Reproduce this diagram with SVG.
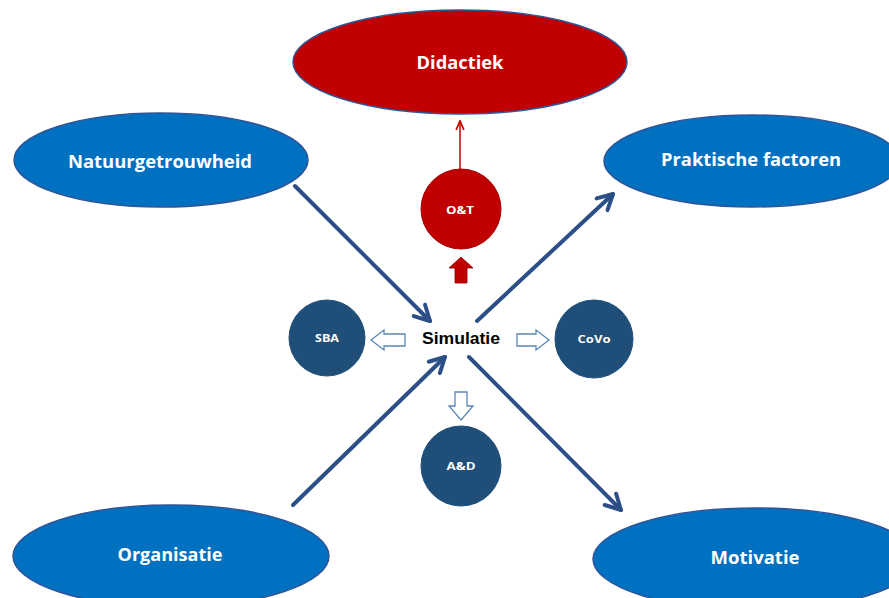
<svg xmlns="http://www.w3.org/2000/svg" width="889" height="598" viewBox="0 0 889 598">
<style>
.blue{fill:#0070C0;stroke:#2F5597;stroke-width:1.5}
.red{fill:#C00000;stroke:#2F5597;stroke-width:1.5}
.dark{fill:#1F4E79;stroke:#1F4E79;stroke-width:1}
.lbl{font-family:"Open Sans","Liberation Sans",sans-serif;font-weight:bold;fill:#fff;text-anchor:middle}
.big{font-size:17px}
.small{font-size:11px}
.conn{stroke:#2B4F86;stroke-width:4;fill:none;stroke-linecap:round}
.hollow{fill:#fff;stroke:#5B86B8;stroke-width:1.3}
</style>
<defs>
<marker id="chev" viewBox="0 0 10 10" refX="8.5" refY="5" markerWidth="5" markerHeight="5" orient="auto" markerUnits="strokeWidth">
<polyline points="1,1 8.5,5 1,9" fill="none" stroke="#2B4F86" stroke-width="2" stroke-linecap="round" stroke-linejoin="round"/>
</marker>
<marker id="redhead" viewBox="0 0 10 10" refX="9" refY="5" markerWidth="11" markerHeight="11" orient="auto" markerUnits="userSpaceOnUse">
<polyline points="1,1.5 9,5 1,8.5" fill="none" stroke="#C00000" stroke-width="1.6"/>
</marker>
</defs>
<g id="connectors">
<line class="conn" x1="295" y1="186" x2="430" y2="321" marker-end="url(#chev)"/>
<line class="conn" x1="477" y1="321" x2="613" y2="194" marker-end="url(#chev)"/>
<line class="conn" x1="293" y1="505" x2="445" y2="357" marker-end="url(#chev)"/>
<line class="conn" x1="469" y1="357" x2="621" y2="510" marker-end="url(#chev)"/>
<line x1="460" y1="184" x2="460" y2="121" stroke="#C00000" stroke-width="1.5" marker-end="url(#redhead)"/>
<polygon points="461,257 473,268 467,268 467,283 455,283 455,268 449,268" fill="#C00000" stroke="#8B0000" stroke-width="0.8"/>
<polygon class="hollow" points="371,340 384,330 384,334 405,334 405,346 384,346 384,350"/>
<polygon class="hollow" points="549,340 536,330 536,334 517,334 517,346 536,346 536,350"/>
<polygon class="hollow" points="461,420 473,406 467,406 467,392 455,392 455,406 449,406"/>
</g>
<g id="didactiek">
<ellipse class="red" cx="460" cy="62" rx="167" ry="52"/>
<text class="lbl big" x="460" y="69" textLength="87" lengthAdjust="spacingAndGlyphs">Didactiek</text>
</g>
<g id="natuurgetrouwheid">
<ellipse class="blue" cx="161" cy="160" rx="147" ry="47"/>
<text class="lbl big" x="160" y="168" textLength="184" lengthAdjust="spacingAndGlyphs">Natuurgetrouwheid</text>
</g>
<g id="praktische">
<ellipse class="blue" cx="752" cy="161" rx="148" ry="46"/>
<text class="lbl big" x="751" y="166" textLength="180" lengthAdjust="spacingAndGlyphs">Praktische factoren</text>
</g>
<g id="organisatie">
<ellipse class="blue" cx="171" cy="556" rx="158" ry="51"/>
<text class="lbl big" x="170" y="561" textLength="105" lengthAdjust="spacingAndGlyphs">Organisatie</text>
</g>
<g id="motivatie">
<ellipse class="blue" cx="755" cy="559" rx="162" ry="51"/>
<text class="lbl big" x="755" y="564" textLength="89" lengthAdjust="spacingAndGlyphs">Motivatie</text>
</g>
<g id="ot">
<circle cx="461" cy="209" r="40" fill="#C00000" stroke="#A00000" stroke-width="1"/>
<text class="lbl small" x="460" y="214" textLength="28" lengthAdjust="spacingAndGlyphs">O&amp;T</text>
</g>
<g id="simulatie">
<text x="461" y="344" font-family="'Liberation Sans',Arial,sans-serif" font-weight="bold" font-size="16" fill="#000" text-anchor="middle" textLength="78" lengthAdjust="spacingAndGlyphs">Simulatie</text>
</g>
<g id="sba">
<circle class="dark" cx="327" cy="338" r="38"/>
<text class="lbl small" x="327" y="342" textLength="24" lengthAdjust="spacingAndGlyphs">SBA</text>
</g>
<g id="covo">
<circle class="dark" cx="594" cy="339" r="39"/>
<text class="lbl small" x="594" y="343" textLength="33" lengthAdjust="spacingAndGlyphs">CoVo</text>
</g>
<g id="ad">
<circle class="dark" cx="461" cy="466" r="40"/>
<text class="lbl small" x="461" y="470" textLength="29" lengthAdjust="spacingAndGlyphs">A&amp;D</text>
</g>
</svg>
